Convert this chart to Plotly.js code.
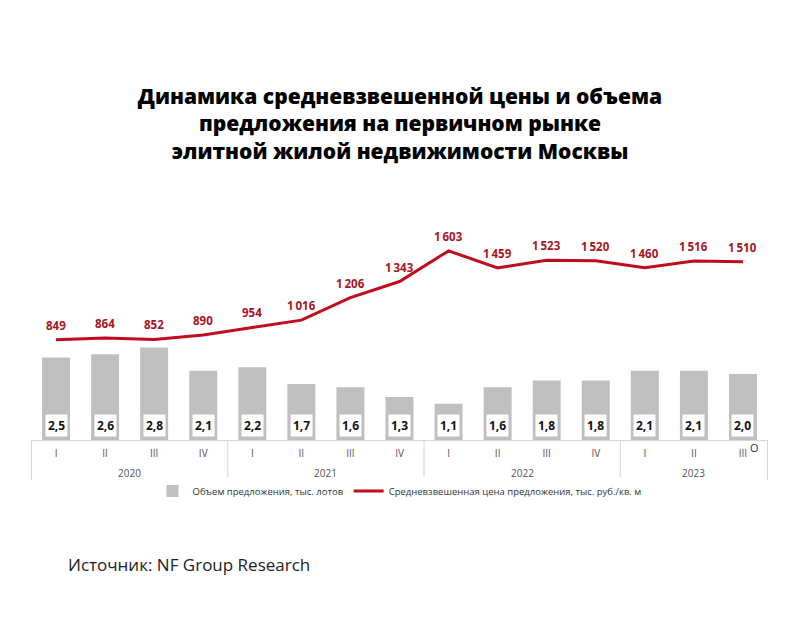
<!DOCTYPE html>
<html><head><meta charset="utf-8">
<script src="https://cdn.plot.ly/plotly-3.0.1.min.js"></script>
<style>body{margin:0;background:#fff}#chart{width:800px;height:640px}</style>
</head><body><div id="chart"></div>
<script>
const years = ["2020","2020","2020","2020","2021","2021","2021","2021","2022","2022","2022","2022","2023","2023","2023"];
const quarters = ["I","II","III","IV","I","II","III","IV","I","II","III","IV","I","II","III"];
const volume = [2.5,2.6,2.8,2.1,2.2,1.7,1.6,1.3,1.1,1.6,1.8,1.8,2.1,2.1,2.0];
const price = [849,864,852,890,954,1016,1206,1343,1603,1459,1523,1520,1460,1516,1510];
const volumeName = "Объем предложения, тыс. лотов";
const priceName = "Средневзвешенная цена предложения, тыс. руб./кв. м";
const titleText = "Динамика средневзвешенной цены и объема<br>предложения на первичном рынке<br>элитной жилой недвижимости Москвы";
const sourceText = "Источник: NF Group Research";

const cats = years.map((y,i)=>y+" "+quarters[i]);
const fmtPrice = v => String(v).replace(/\B(?=(\d{3})+(?!\d))/g, "\u2009");
const fmtVol = v => v.toFixed(1).replace(".", ",");

const traces = [
  {type:"bar", name: volumeName, x:cats, y: volume,
   marker:{color:"#bfbfbf"}, hoverinfo:"skip"},
  {type:"scatter", mode:"lines", name: priceName, x:cats, y: price, yaxis:"y2",
   line:{color:"#c00d1e", width:3}, hoverinfo:"skip", cliponaxis:false}
];

const annotations = volume.map((v,i)=>({
  xref:"x", yref:"y", x:i, y:0, yanchor:"bottom", yshift:3, showarrow:false,
  text:"<b>"+fmtVol(v)+"</b>", bgcolor:"#ffffff", borderpad:2,
  font:{family:"Open Sans", size:12, color:"#111"}
}));
price.forEach((p,i)=>annotations.push({
  xref:"x", yref:"y2", x:i, y:p, yanchor:"bottom", yshift:5, showarrow:false,
  text:"<b>"+fmtPrice(p)+"</b>", font:{family:"Open Sans", size:11.5, color:"#a8151f"}
}));

// year group labels and dividers
const shapes = [];
const groups = [];
years.forEach((y,i)=>{
  const g = groups[groups.length-1];
  if (g && g.year===y) g.end=i; else groups.push({year:y, start:i, end:i});
});
const divY = -40/240;
groups.forEach(g=>{
  annotations.push({xref:"x", yref:"paper", x:(g.start+g.end)/2, y:-33/240, yanchor:"middle",
    showarrow:false, text:g.year, font:{family:"Open Sans", size:10, color:"#555"}});
  shapes.push({type:"line", xref:"x", yref:"paper", x0:g.start-0.5, x1:g.start-0.5, y0:0, y1:divY,
    line:{color:"#d6d6d6", width:1}});
});
shapes.push({type:"line", xref:"x", yref:"paper", x0:years.length-0.5, x1:years.length-0.5, y0:0, y1:divY,
  line:{color:"#d6d6d6", width:1}});

annotations.push({xref:"paper", yref:"paper", x:0.0474, y:-0.52, xanchor:"left", yanchor:"middle",
  showarrow:false, text:sourceText, font:{family:"Open Sans", size:17, color:"#222"}});
annotations.push({xref:"paper", yref:"paper", x:0.982, y:-0.03, xanchor:"center", yanchor:"middle",
  showarrow:false, text:"O", font:{family:"Open Sans", size:11, color:"#333"}});

const layout = {
  width:800, height:640, paper_bgcolor:"#fff", plot_bgcolor:"#fff",
  margin:{l:31, r:32, t:200, b:200},
  title:{text:titleText, x:0.5, xanchor:"center", y:0.8375, yanchor:"middle",
    font:{family:"Open Sans", size:21, color:"#000", weight:800}},
  bargap:0.43, showlegend:true,
  xaxis:{type:"category", automargin:false, showline:true, linecolor:"#d6d6d6", linewidth:1,
    tickvals:cats, ticktext:quarters,
    tickfont:{family:"Open Sans", size:10, color:"#555"}, ticks:"", showgrid:false, ticklabelstandoff:4},
  yaxis:{range:[0, 7.27], visible:false, showgrid:false, zeroline:false},
  yaxis2:{range:[0, 2034], overlaying:"y", visible:false, showgrid:false, zeroline:false},
  legend:{orientation:"h", x:0.5, xanchor:"center", y:-0.2125, yanchor:"middle",
    font:{family:"Open Sans", size:9.5, color:"#333"}, traceorder:"normal", itemwidth:30},
  annotations: annotations, shapes: shapes
};
Plotly.newPlot("chart", traces, layout, {displayModeBar:false, staticPlot:true});
</script></body></html>
